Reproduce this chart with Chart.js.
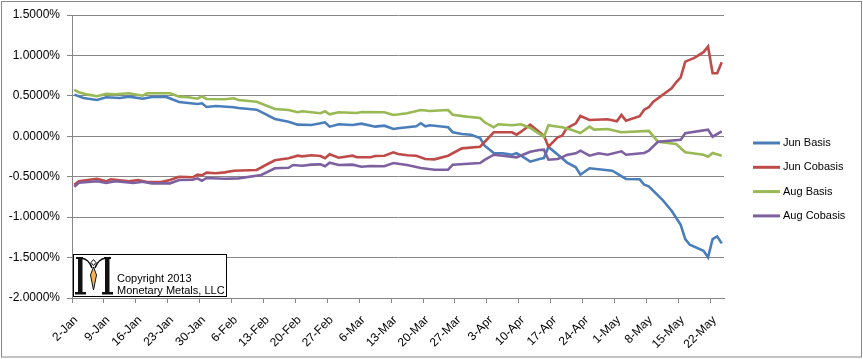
<!DOCTYPE html>
<html>
<head>
<meta charset="utf-8">
<script src="https://cdn.jsdelivr.net/npm/chart.js@4.4.1/dist/chart.umd.min.js"></script>
<style>
  body { margin: 0; background: #fff; }
  canvas { display: block; }
</style>
</head>
<body>
<canvas id="myChart" width="863" height="359"></canvas>
<script>
// tick labels, one every 7 days from 2-Jan
const tickLabels = ["2-Jan", "9-Jan", "16-Jan", "23-Jan", "30-Jan", "6-Feb", "13-Feb",
  "20-Feb", "27-Feb", "6-Mar", "13-Mar", "20-Mar", "27-Mar", "3-Apr", "10-Apr",
  "17-Apr", "24-Apr", "1-May", "8-May", "15-May", "22-May"];

// days counted from 2-Jan, values in percent
const junBasisDays = [0,2,5,7,10,12,15,17,20,23,25,27,28,29,31,35,36,40,44,47,49,52,54,55,56,58,61,63,66,68,70,71,73,75,76,77,78,82,83,85,87,89,90,92,94,96,97,98,100,102,103,104,107,108,110,111,113,118,121,124,125,126,129,131,133,134,135,138,139,140,141,142];
const junBasis = [0.515,0.474,0.449,0.483,0.474,0.490,0.465,0.486,0.490,0.424,0.412,0.400,0.408,0.363,0.375,0.359,0.350,0.329,0.214,0.181,0.144,0.140,0.161,0.173,0.119,0.149,0.140,0.156,0.119,0.131,0.090,0.099,0.111,0.124,0.161,0.124,0.136,0.111,0.050,0.028,0.020,-0.021,-0.116,-0.207,-0.210,-0.228,-0.210,-0.240,-0.314,-0.281,-0.269,-0.132,-0.272,-0.322,-0.384,-0.475,-0.396,-0.426,-0.528,-0.532,-0.599,-0.619,-0.785,-0.921,-1.094,-1.271,-1.342,-1.416,-1.497,-1.271,-1.238,-1.324];

const junCobasisDays = [0,1,5,7,8,12,14,16,19,21,23,26,27,28,29,31,33,35,40,42,44,47,49,50,52,54,55,56,58,61,62,65,66,68,70,71,73,75,77,79,82,85,89,92,96,97,98,100,103,104,106,107,108,110,111,113,117,119,120,121,124,125,126,127,131,132,133,134,136,138,139,140,141,142];
const junCobasis = [-0.599,-0.557,-0.525,-0.557,-0.532,-0.557,-0.541,-0.566,-0.566,-0.541,-0.500,-0.507,-0.475,-0.483,-0.450,-0.458,-0.446,-0.426,-0.417,-0.355,-0.297,-0.272,-0.240,-0.248,-0.235,-0.244,-0.272,-0.223,-0.265,-0.240,-0.260,-0.260,-0.244,-0.240,-0.198,-0.219,-0.235,-0.240,-0.281,-0.285,-0.240,-0.149,-0.129,0.050,0.050,0.020,0.057,0.144,0.007,-0.129,-0.012,0.007,0.099,0.161,0.251,0.202,0.210,0.186,0.264,0.193,0.248,0.329,0.359,0.428,0.594,0.668,0.730,0.923,0.969,1.040,1.109,0.780,0.780,0.916];

const augBasisDays = [0,1,3,5,7,9,12,15,16,21,23,25,27,28,29,33,35,36,40,44,47,49,50,54,55,56,58,62,63,68,70,73,76,78,82,83,86,89,90,92,93,96,98,100,103,104,105,107,109,111,113,114,117,120,126,128,132,134,138,139,140,142];
const augBasis = [0.573,0.545,0.515,0.495,0.524,0.520,0.532,0.502,0.532,0.532,0.490,0.483,0.465,0.495,0.462,0.458,0.470,0.449,0.428,0.338,0.325,0.297,0.309,0.285,0.309,0.272,0.297,0.288,0.301,0.297,0.264,0.285,0.325,0.313,0.325,0.267,0.243,0.226,0.173,0.111,0.149,0.136,0.149,0.103,-0.005,0.136,0.127,0.111,0.082,0.041,0.119,0.082,0.090,0.050,0.066,-0.067,-0.095,-0.198,-0.228,-0.252,-0.207,-0.240];

const augCobasisDays = [0,1,5,7,9,13,15,17,21,23,26,27,28,29,33,36,41,44,47,48,50,52,54,55,56,58,61,63,65,68,70,71,73,76,79,82,83,89,90,92,94,97,100,102,103,104,106,107,108,110,111,113,115,117,120,121,125,126,128,133,134,139,140,142];
const augCobasis = [-0.624,-0.574,-0.557,-0.578,-0.557,-0.578,-0.562,-0.582,-0.582,-0.541,-0.537,-0.520,-0.550,-0.516,-0.525,-0.520,-0.479,-0.396,-0.389,-0.355,-0.364,-0.351,-0.347,-0.371,-0.327,-0.355,-0.351,-0.376,-0.368,-0.371,-0.330,-0.339,-0.355,-0.392,-0.413,-0.413,-0.351,-0.330,-0.293,-0.228,-0.240,-0.260,-0.191,-0.170,-0.166,-0.290,-0.281,-0.260,-0.231,-0.210,-0.178,-0.240,-0.210,-0.228,-0.186,-0.228,-0.207,-0.178,-0.067,-0.042,0.037,0.082,-0.005,0.062];

function toPoints(days, values) {
  return days.map((d, i) => ({ x: d, y: values[i] }));
}

const gridColor = "#868686";
const fontName = "'Liberation Sans', Arial, sans-serif";

// white background, outer frame, legend and copyright box
const decorations = {
  id: "decorations",
  beforeDraw(chart) {
    const ctx = chart.ctx;
    ctx.save();
    ctx.fillStyle = "#fff";
    ctx.fillRect(0, 0, chart.width, chart.height);
    ctx.strokeStyle = gridColor;
    ctx.lineWidth = 1;
    ctx.strokeRect(1.5, 1.5, chart.width - 3, chart.height - 3.5);
    ctx.restore();
  },
  afterDraw(chart) {
    const ctx = chart.ctx;
    ctx.save();

    // legend
    ctx.font = "11px " + fontName;
    ctx.textBaseline = "middle";
    ctx.fillStyle = "#000";
    chart.data.datasets.forEach((ds, i) => {
      const y = 143 + i * 24.3;
      ctx.strokeStyle = ds.borderColor;
      ctx.lineWidth = 3;
      ctx.beginPath();
      ctx.moveTo(753, y);
      ctx.lineTo(780, y);
      ctx.stroke();
      ctx.fillText(ds.label, 783, y);
    });

    // copyright box
    ctx.fillStyle = "#fff";
    ctx.fillRect(73.5, 254.5, 153, 42);
    ctx.strokeStyle = "#000";
    ctx.lineWidth = 1;
    ctx.strokeRect(73.5, 254.5, 153, 42);

    // logo "M"
    ctx.fillStyle = "#111";
    ctx.fillRect(78, 258, 4.5, 35);
    ctx.fillRect(75, 292, 11, 2.5);
    ctx.fillRect(76, 257, 7, 2);
    ctx.fillRect(105, 258, 4.5, 35);
    ctx.fillRect(102, 292, 11, 2.5);
    ctx.fillRect(104, 257, 7, 2);
    ctx.strokeStyle = "#111";
    ctx.lineWidth = 1.5;
    ctx.beginPath();
    ctx.moveTo(81, 258);
    ctx.quadraticCurveTo(89, 259, 92, 268);
    ctx.moveTo(106, 258);
    ctx.quadraticCurveTo(98, 259, 95, 268);
    ctx.stroke();
    // diamond
    ctx.lineWidth = 1;
    ctx.beginPath();
    ctx.moveTo(93.5, 259.5);
    ctx.lineTo(96, 262.5);
    ctx.lineTo(93.5, 265.5);
    ctx.lineTo(91, 262.5);
    ctx.closePath();
    ctx.stroke();
    // crystal
    ctx.fillStyle = "#f4b350";
    ctx.beginPath();
    ctx.moveTo(93.5, 267);
    ctx.lineTo(96.5, 275);
    ctx.lineTo(93.5, 290);
    ctx.lineTo(90.5, 275);
    ctx.closePath();
    ctx.fill();
    ctx.stroke();

    ctx.fillStyle = "#000";
    ctx.font = "11px " + fontName;
    ctx.textBaseline = "alphabetic";
    ctx.fillText("Copyright 2013", 117, 282);
    ctx.fillText("Monetary Metals, LLC", 117, 293.5);
    ctx.restore();
  }
};

const ctx = document.getElementById("myChart").getContext("2d");

const chart = new Chart(ctx, {
  type: "line",
  data: {
    datasets: [
      { label: "Jun Basis", data: toPoints(junBasisDays, junBasis), borderColor: "#4A7EBB", order: 4 },
      { label: "Jun Cobasis", data: toPoints(junCobasisDays, junCobasis), borderColor: "#BE4B48", order: 3 },
      { label: "Aug Basis", data: toPoints(augBasisDays, augBasis), borderColor: "#98B954", order: 2 },
      { label: "Aug Cobasis", data: toPoints(augCobasisDays, augCobasis), borderColor: "#7D60A0", order: 1 },
    ],
  },
  options: {
    responsive: false,
    animation: false,
    layout: { padding: { left: 0, top: 15, right: 139, bottom: 0 } },
    elements: {
      line: { borderWidth: 2.6, tension: 0, fill: false },
      point: { radius: 0, hoverRadius: 0 },
    },
    plugins: {
      legend: { display: false },
      tooltip: { enabled: false },
    },
    scales: {
      x: {
        type: "linear",
        min: -0.5,
        max: 142.5,
        afterBuildTicks: (scale) => {
          scale.ticks = tickLabels.map((_, i) => ({ value: i * 7 - 0.5 }));
        },
        afterFit: (scale) => { scale.height = 61; },
        grid: { drawOnChartArea: false, drawTicks: true, tickLength: 5, color: gridColor },
        border: { display: true, color: gridColor },
        ticks: {
          autoSkip: false,
          maxRotation: 45,
          minRotation: 45,
          padding: 10,
          labelOffset: 4,
          color: "#000",
          font: { family: fontName, size: 12 },
          callback: (value, index) => tickLabels[index],
        },
      },
      y: {
        min: -2,
        max: 1.5,
        afterFit: (scale) => { scale.width = 72; },
        grid: { color: gridColor, tickLength: 5 },
        border: { display: true, color: gridColor },
        ticks: {
          stepSize: 0.5,
          padding: 7,
          color: "#000",
          font: { family: fontName, size: 12 },
          callback: (value) => value.toFixed(4) + "%",
        },
      },
    },
  },
  plugins: [decorations],
});
</script>
</body>
</html>
